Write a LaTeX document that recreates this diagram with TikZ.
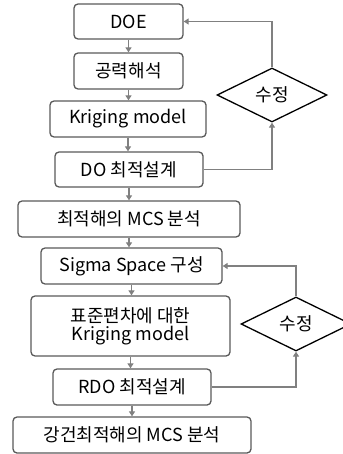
\documentclass[tikz,border=0pt]{standalone}
\usepackage{fontspec}
\setmainfont{Noto Sans CJK KR}
\usetikzlibrary{shapes.geometric,arrows.meta}
\begin{document}
\begin{tikzpicture}[x=1pt,y=-1pt,
  box/.style={draw=black!65,line width=1.3pt,rounded corners=4pt,inner sep=0pt,font=\fontsize{18}{21}\selectfont,align=center},
  dia/.style={draw=black,line width=1.3pt,shape=diamond,inner sep=0pt,minimum width=110pt,minimum height=54pt,font=\fontsize{18}{21}\selectfont},
  arr/.style={draw=black!50,line width=1.5pt,-{Triangle[length=5pt,width=6pt]}}]
\useasboundingbox (0,0) rectangle (342,454);
\node[box,minimum width=109pt,minimum height=35pt] (doe) at (128.5,21.5) {DOE};
\node[box,minimum width=109pt,minimum height=36pt] (gong) at (128.5,71) {공력해석};
\node[box,minimum width=156pt,minimum height=36pt] (krig) at (128,119) {Kriging model};
\node[box,minimum width=148pt,minimum height=35pt] (do) at (129,169.5) {DO 최적설계};
\node[box,minimum width=222pt,minimum height=36pt] (mcs1) at (129,219) {최적해의 MCS 분석};
\node[box,minimum width=181pt,minimum height=36pt] (sigma) at (131.5,266) {Sigma Space 구성};
\node[box,minimum width=199pt,minimum height=60pt] (std) at (130.5,326) {표준편차에 대한\\[-3pt]Kriging model};
\node[box,minimum width=158pt,minimum height=36pt] (rdo) at (132,387) {RDO 최적설계};
\node[box,minimum width=238pt,minimum height=36pt] (mcs2) at (132,435) {강건최적해의 MCS 분석};
\node[dia] (d1) at (272,95) {수정};
\node[dia] (d2) at (296,324) {수정};
\draw[arr] (doe.south) -- (doe.south |- gong.north);
\draw[arr] (gong.south) -- (gong.south |- krig.north);
\draw[arr] (krig.south) -- (krig.south |- do.north);
\draw[arr] (do.south) -- (do.south |- mcs1.north);
\draw[arr] (mcs1.south) -- (mcs1.south |- sigma.north);
\draw[arr] (sigma.south) -- (sigma.south |- std.north);
\draw[arr] (std.south) -- (std.south |- rdo.north);
\draw[arr] (rdo.south) -- (rdo.south |- mcs2.north);
\draw[arr] (do.east) -| (d1.south);
\draw[arr] (d1.north) |- (doe.east);
\draw[arr] (rdo.east) -| (d2.south);
\draw[arr] (d2.north) |- (sigma.east);
\end{tikzpicture}
\end{document}
